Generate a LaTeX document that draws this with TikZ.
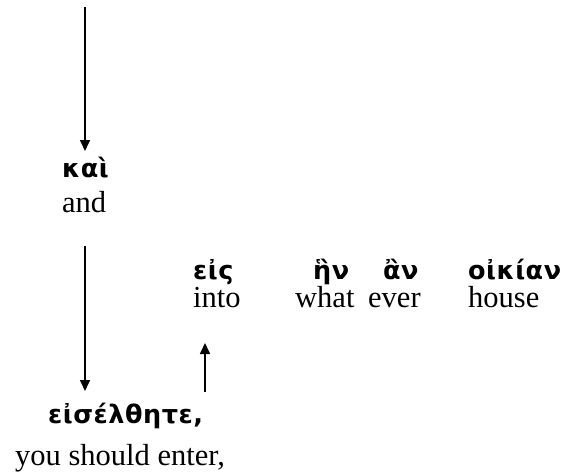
\documentclass[tikz,border=0pt]{standalone}
\usepackage{fontspec}
\setmainfont{Liberation Serif}
\newfontfamily\grk[LetterSpace=2]{DejaVu Sans}
\usetikzlibrary{arrows.meta}
\begin{document}
\begin{tikzpicture}[x=1pt,y=-1pt,
  gw/.style={anchor=base west,inner sep=0pt,font=\grk\bfseries\fontsize{25.5}{28}\selectfont},
  ew/.style={anchor=base west,inner sep=0pt,font=\fontsize{30.5}{34}\selectfont},
  conn/.style={line width=1.6pt,-{Triangle[length=11pt,width=10pt]}}]
\useasboundingbox (0,0) rectangle (568,475);
% words
\node[gw] (kai) at (62,177) {καὶ};
\node[ew] (and) at (62,212) {and};
\node[gw] (eis) at (193,279) {εἰς};
\node[ew] (into) at (193,307) {into};
\node[gw] (hn) at (313,279) {ἣν};
\node[ew] (what) at (295,307) {what};
\node[gw] (an) at (383,279) {ἂν};
\node[ew] (ever) at (368,307) {ever};
\node[gw] (oikian) at (468,279) {οἰκίαν};
\node[ew] (house) at (468,307) {house};
\node[gw] (eisel) at (48,423) {εἰσέλθητε,};
\node[ew] (enter) at (15,465) {you should enter,};
% connector ends
\coordinate (top) at (85,7);
\coordinate (kaitop) at (85,151);
\coordinate (andbot) at (85,246);
\coordinate (eiseltop) at (85,391);
\coordinate (upbot) at (205,392);
\coordinate (intobot) at (205,343);
\draw[conn] (top) -- (kaitop);
\draw[conn] (andbot) -- (eiseltop);
\draw[conn] (upbot) -- (intobot);
\end{tikzpicture}
\end{document}
